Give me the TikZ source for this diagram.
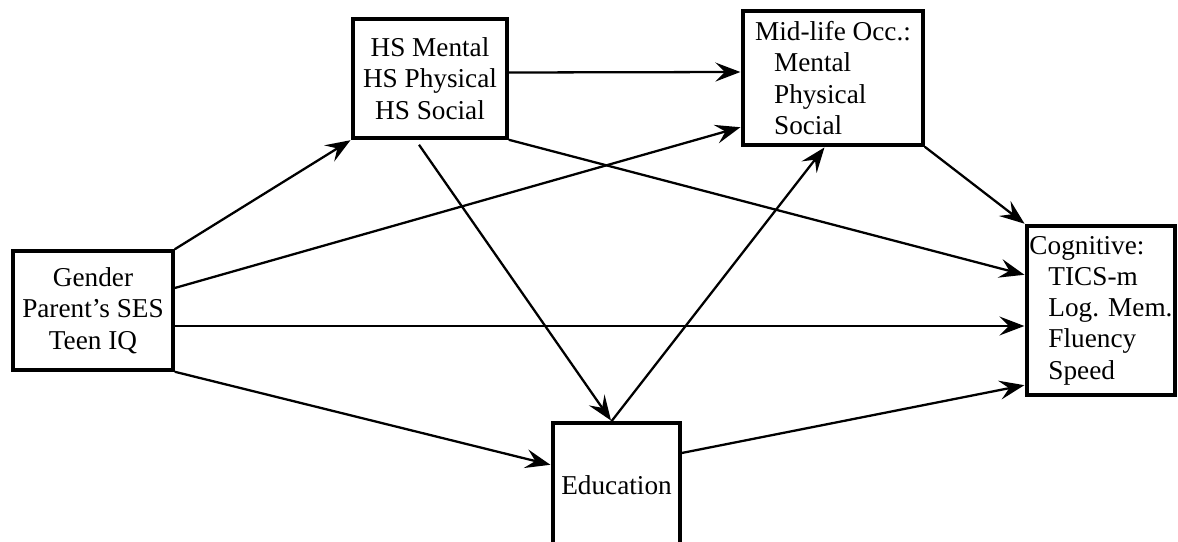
\documentclass[tikz,border=0pt]{standalone}
\usepackage{fontspec}
\setmainfont{Liberation Serif}
\usepackage{tikz}
\usetikzlibrary{arrows.meta}

\begin{document}
\begin{tikzpicture}[
		box/.style={shape=rectangle, draw, line width=2pt, inner sep=0.04cm, font=\fontsize{15.5}{17.8}\selectfont},
		arr/.style={line width=1.3pt, -{Stealth[length=0.5cm, width=0.38cm, inset=0.19cm]}, shorten >=0.5pt}]
					\useasboundingbox (0, 0) rectangle (23.56, 10.82);
					% Boxes and arrows:
					\node[box, align=center, minimum width=3.2cm, minimum height=2.38cm](ctrl) at (1.86, 4.61){Gender\\Parent's SES\\Teen IQ};
					\node[box, align=center, minimum width=3.08cm, minimum height=2.38cm](hs) at (8.6, 9.25){HS Mental\\HS Physical\\HS Social};
					\node[box, align=left, minimum width=3.6cm, minimum height=2.68cm](mid) at (16.66, 9.26){Mid-life Occ.:\\\hspace*{0.38cm}Mental\\\hspace*{0.38cm}Physical\\\hspace*{0.38cm}Social};
					\node[box, align=left, minimum width=2.96cm, minimum height=3.38cm](cog) at (22.02, 4.61){Cognitive:\\\hspace*{0.38cm}TICS-m\\\hspace*{0.38cm}Log. Mem.\\\hspace*{0.38cm}Fluency\\\hspace*{0.38cm}Speed};
					\node[box, minimum width=2.54cm, minimum height=2.48cm](edu) at (12.33, 1.12){Education};
					\draw[arr] (ctrl.north east) -- (hs.south west);
					\draw[arr] ([yshift=0.45cm]ctrl.east) -- ([yshift=-0.98cm]mid.west);
					\draw[arr] ([yshift=-0.31cm]ctrl.east) -- ([yshift=-0.31cm]cog.west);
					\draw[arr] (ctrl.south east) -- ([yshift=0.4cm]edu.west);
					\draw[arr] ([yshift=0.12cm]hs.east) -- ([yshift=0.12cm]mid.west);
					\draw[arr] (hs.south east) -- ([yshift=0.71cm]cog.west);
					\draw[arr] ([xshift=-0.22cm, yshift=-0.1cm]hs.south) -- ([xshift=-0.1cm]edu.north);
					\draw[arr] ([xshift=-0.1cm]edu.north) -- ([xshift=-0.16cm]mid.south);
					\draw[arr] (mid.south east) -- (cog.north west);
					\draw[arr] ([yshift=0.64cm]edu.east) -- ([yshift=-1.49cm]cog.west);
				\end{tikzpicture}
\end{document}
